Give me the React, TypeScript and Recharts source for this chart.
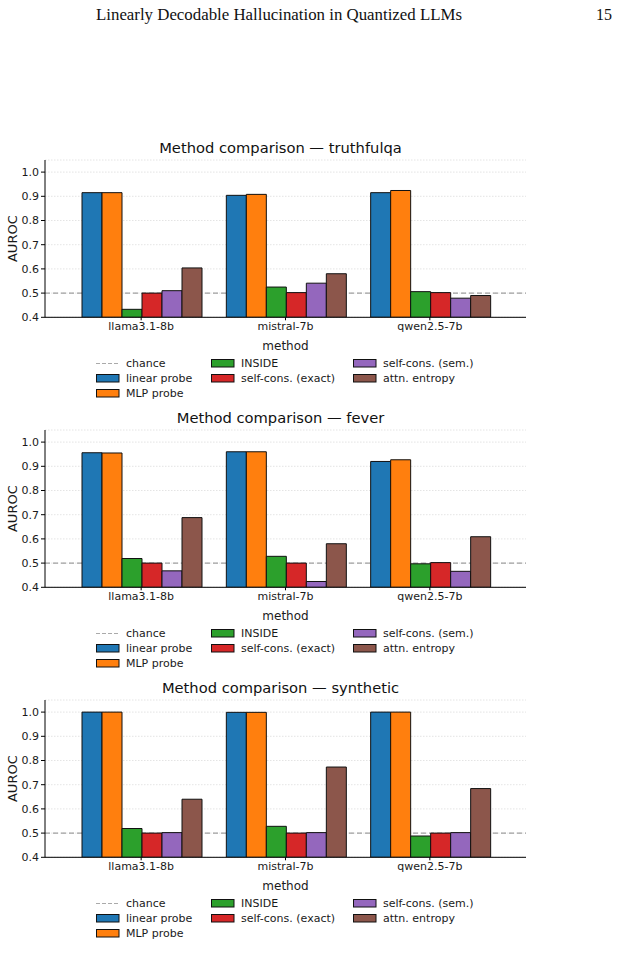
import React from 'react';
import { BarChart, Bar, XAxis, YAxis, CartesianGrid, ReferenceLine } from 'recharts';

// Models compared on the x axis
const models = ['llama3.1-8b', 'mistral-7b', 'qwen2.5-7b'];

// Methods (series), in legend order
const methodKeys = ['linear', 'mlp', 'inside', 'scExact', 'scSem', 'attn'];
const methodNames = ['linear probe', 'MLP probe', 'INSIDE', 'self-cons. (exact)', 'self-cons. (sem.)', 'attn. entropy'];
const methodColors = ['#1f77b4', '#ff7f0e', '#2ca02c', '#d62728', '#9467bd', '#8c564b'];

// AUROC per method, one value per model (llama, mistral, qwen)
const truthfulqaLinear = [0.915, 0.904, 0.915];
const truthfulqaMlp = [0.915, 0.908, 0.924];
const truthfulqaInside = [0.433, 0.525, 0.506];
const truthfulqaScExact = [0.5, 0.502, 0.502];
const truthfulqaScSem = [0.51, 0.541, 0.479];
const truthfulqaAttn = [0.604, 0.58, 0.49];

const feverLinear = [0.956, 0.96, 0.92];
const feverMlp = [0.955, 0.96, 0.927];
const feverInside = [0.519, 0.528, 0.497];
const feverScExact = [0.5, 0.5, 0.502];
const feverScSem = [0.468, 0.424, 0.466];
const feverAttn = [0.688, 0.58, 0.609];

const syntheticLinear = [1.0, 0.999, 1.0];
const syntheticMlp = [1.0, 0.999, 1.0];
const syntheticInside = [0.519, 0.528, 0.488];
const syntheticScExact = [0.5, 0.5, 0.5];
const syntheticScSem = [0.502, 0.502, 0.502];
const syntheticAttn = [0.64, 0.773, 0.684];

const yTicks = [0.4, 0.5, 0.6, 0.7, 0.8, 0.9, 1.0];
const chanceLevel = 0.5;

const datasets = [
  { name: 'truthfulqa', series: [truthfulqaLinear, truthfulqaMlp, truthfulqaInside, truthfulqaScExact, truthfulqaScSem, truthfulqaAttn] },
  { name: 'fever', series: [feverLinear, feverMlp, feverInside, feverScExact, feverScSem, feverAttn] },
  { name: 'synthetic', series: [syntheticLinear, syntheticMlp, syntheticInside, syntheticScExact, syntheticScSem, syntheticAttn] },
];

const FONT = '"DejaVu Sans", sans-serif';

function buildRows(series: number[][]) {
  return models.map((m, i) => {
    const row: Record<string, string | number> = { model: m };
    methodKeys.forEach((k, j) => {
      row[k] = series[j][i];
    });
    return row;
  });
}

const legendColumns = [
  { x: 96, items: [{ chance: true, label: 'chance' }, { idx: 0 }, { idx: 1 }] },
  { x: 211, items: [{ idx: 2 }, { idx: 3 }] },
  { x: 353, items: [{ idx: 4 }, { idx: 5 }] },
];

function LegendBlock() {
  return (
    <div style={{ position: 'absolute', left: 0, top: 226, width: 617, height: 45 }}>
      {legendColumns.map((col, ci) =>
        col.items.map((it: any, ri) => {
          const top = ri * 15;
          const label = it.chance ? 'chance' : methodNames[it.idx];
          return (
            <div key={`${ci}-${ri}`} style={{ position: 'absolute', left: col.x, top, height: 15, display: 'flex', alignItems: 'center' }}>
              <svg width={24} height={15} style={{ display: 'block' }}>
                {it.chance ? (
                  <line x1={0} x2={23} y1={7.5} y2={7.5} stroke="#aaaaaa" strokeWidth={1.2} strokeDasharray="4 2" />
                ) : (
                  <rect x={0.5} y={3.5} width={22.5} height={7.5} fill={methodColors[it.idx]} stroke="#111" strokeWidth={1} />
                )}
              </svg>
              <span style={{ marginLeft: 6, fontFamily: FONT, fontSize: 11, color: '#1a1a1a', whiteSpace: 'nowrap' }}>{label}</span>
            </div>
          );
        })
      )}
    </div>
  );
}

const AurocLabel = (props: any) => {
  const vb = props.viewBox || {};
  const cy = (vb.y || 0) + (vb.height || 0) / 2;
  return (
    <text x={13} y={cy} transform={`rotate(-90, 13, ${cy})`} textAnchor="middle" dominantBaseline="central" fontFamily={FONT} fontSize={13} fill="#1a1a1a">
      AUROC
    </text>
  );
};

function Panel({ name, series }: { name: string; series: number[][] }) {
  const rows = buildRows(series);
  return (
    <div style={{ position: 'relative', width: 617, height: 270 }}>
      <div style={{ position: 'absolute', left: 40, width: 481, top: 9, textAlign: 'center', fontFamily: FONT, fontSize: 14.7, lineHeight: '18px', color: '#111' }}>
        Method comparison — {name}
      </div>
      <BarChart width={617} height={270} data={rows} margin={{ top: 30, right: 91, bottom: 46.7, left: 5 }} barGap={0} barCategoryGap={13}>
        <CartesianGrid horizontal vertical={false} stroke="#dddddd" strokeDasharray="1.5 1.5" strokeWidth={0.8} />
        <ReferenceLine y={chanceLevel} stroke="#a0a0a0" strokeWidth={1.1} strokeDasharray="5 3" zIndex={50} />
        <XAxis
          dataKey="model"
          height={36}
          padding={{ left: 24, right: 24 }}
          axisLine={{ stroke: '#000', strokeWidth: 1 }}
          tickLine={{ stroke: '#000', strokeWidth: 1 }}
          tickSize={3}
          tick={{ fontFamily: FONT, fontSize: 11, fill: '#1a1a1a' }}
          label={{ value: 'method', position: 'insideBottom', offset: 3, fontFamily: FONT, fontSize: 12, fill: '#1a1a1a' }}
        />
        <YAxis
          type="number"
          domain={[0.4, 1.05]}
          ticks={yTicks}
          allowDataOverflow
          width={40}
          axisLine={{ stroke: '#000', strokeWidth: 1 }}
          tickLine={{ stroke: '#000', strokeWidth: 1 }}
          tickSize={4}
          tickFormatter={(v: number) => v.toFixed(1)}
          tick={{ fontFamily: FONT, fontSize: 11, fill: '#1a1a1a' }}
          label={<AurocLabel />}
        />
        {methodKeys.map((k, j) => (
          <Bar key={k} dataKey={k} name={methodNames[j]} fill={methodColors[j]} stroke="#111" strokeWidth={1} isAnimationActive={false} />
        ))}
      </BarChart>
      <LegendBlock />
    </div>
  );
}

export default function App() {
  return (
    <div style={{ position: 'absolute', left: 0, top: 0, width: 617, height: 972, background: '#fff' }}>
      <svg width={617} height={40} style={{ position: 'absolute', left: 0, top: 0 }}>
        <text x={96} y={20} fontFamily='"Liberation Serif", "DejaVu Serif", serif' fontSize={16} fill="#111" textLength={366} lengthAdjust="spacingAndGlyphs">
          Linearly Decodable Hallucination in Quantized LLMs
        </text>
        <text x={596} y={20} fontFamily='"Liberation Serif", "DejaVu Serif", serif' fontSize={16} fill="#111">
          15
        </text>
      </svg>
      {datasets.map((d, i) => (
        <div key={d.name} style={{ position: 'absolute', left: 0, top: 130 + i * 270 }}>
          <Panel name={d.name} series={d.series} />
        </div>
      ))}
    </div>
  );
}
